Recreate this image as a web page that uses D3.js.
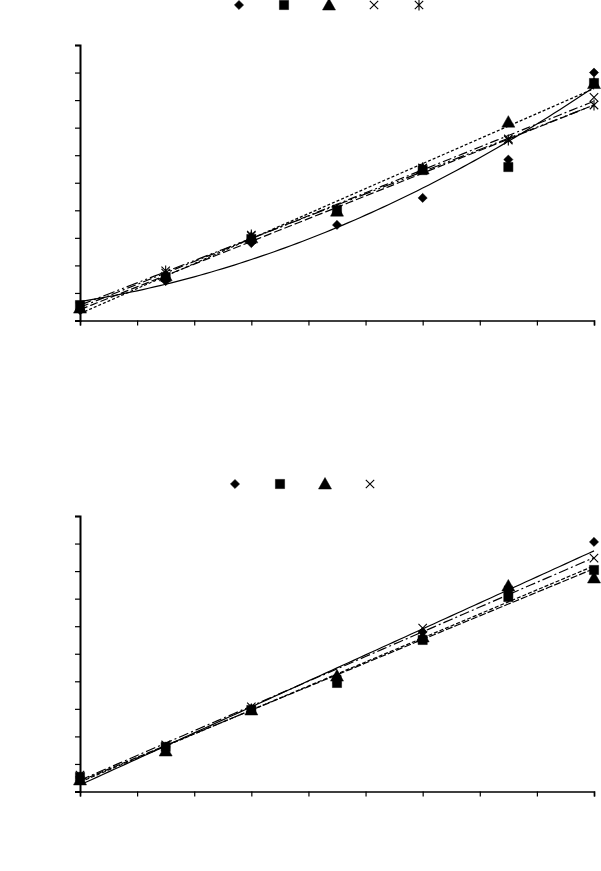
<!DOCTYPE html>
<html>
<head>
<meta charset="utf-8">
<script src="https://cdn.jsdelivr.net/npm/d3@7"></script>
<style>
  body { margin: 0; background: #fff; }
  svg { display: block; }
</style>
</head>
<body>
<div id="app"></div>
<script>
// x positions of the measurements (same for both panels)
const xValues = [0, 1.5, 3, 4.5, 6, 7.5, 9];

// top panel
const topDiamond  = [0.38, 1.43, 2.81, 3.47, 4.45, 5.84, 9.00];
const topSquare   = [0.56, 1.58, 2.96, 4.01, 5.46, 5.57, 8.62];
const topTriangle = [0.45, 1.62, 3.00, 3.97, 5.50, 7.20, 8.60];
const topCross    = [0.53, 1.72, 3.07, 4.00, 5.53, 6.59, 8.10];
const topStar     = [0.50, 1.80, 3.10, 4.04, 5.53, 6.55, 7.82];

// bottom panel
const botDiamond  = [0.53, 1.62, 3.00, 4.16, 5.79, 7.25, 9.06];
const botSquare   = [0.53, 1.62, 2.96, 3.94, 5.50, 7.06, 8.04];
const botTriangle = [0.42, 1.47, 2.96, 4.19, 5.61, 7.46, 7.75];
const botCross    = [0.60, 1.69, 3.07, 4.08, 5.93, 7.31, 8.47];

const xTicks = d3.range(0, 10);
const yTicks = d3.range(0, 11);

const width = 601, height = 871;

const svg = d3.select("#app").append("svg")
    .attr("width", width)
    .attr("height", height);

// marker shapes
const shapes = {
  diamond: { draw(c) { const r = 4.6; c.moveTo(0, -r); c.lineTo(r, 0); c.lineTo(0, r); c.lineTo(-r, 0); c.closePath(); } },
  square:  { draw(c) { const r = 4.6; c.rect(-r, -r, 2 * r, 2 * r); } },
  triangle:{ draw(c) { c.moveTo(0, -6.5); c.lineTo(6.5, 5); c.lineTo(-6.5, 5); c.closePath(); } },
  cross:   { draw(c) { const r = 4.2; c.moveTo(-r, -r); c.lineTo(r, r); c.moveTo(r, -r); c.lineTo(-r, r); } },
  star:    { draw(c) { const r = 4.2; c.moveTo(-r, -r); c.lineTo(r, r); c.moveTo(r, -r); c.lineTo(-r, r); c.moveTo(0, -5.5); c.lineTo(0, 5.5); } }
};
const filled = { diamond: true, square: true, triangle: true, cross: false, star: false };

// least squares fits
function linFit(xs, ys) {
  const mx = d3.mean(xs), my = d3.mean(ys);
  const b = d3.sum(xs, (x, i) => (x - mx) * (ys[i] - my)) / d3.sum(xs, x => (x - mx) ** 2);
  return x => my + b * (x - mx);
}
function polyFit(xs, ys) {
  // quadratic via normal equations
  const n = xs.length;
  const s = k => d3.sum(xs, x => x ** k);
  const t = k => d3.sum(xs, (x, i) => x ** k * ys[i]);
  const A = [[n, s(1), s(2)], [s(1), s(2), s(3)], [s(2), s(3), s(4)]];
  const B = [t(0), t(1), t(2)];
  for (let i = 0; i < 3; i++) {
    for (let j = i + 1; j < 3; j++) {
      const f = A[j][i] / A[i][i];
      for (let k = i; k < 3; k++) A[j][k] -= f * A[i][k];
      B[j] -= f * B[i];
    }
  }
  const c = [0, 0, 0];
  for (let i = 2; i >= 0; i--) {
    let v = B[i];
    for (let k = i + 1; k < 3; k++) v -= A[i][k] * c[k];
    c[i] = v / A[i][i];
  }
  return x => c[0] + c[1] * x + c[2] * x * x;
}

function panel(top, bottom, series, legendY, legendX) {
  const x = d3.scaleLinear().domain([0, 9]).range([80, 594]);
  const y = d3.scaleLinear().domain([0, 10]).range([bottom, top]);
  const g = svg.append("g");

  // trend lines
  const line = d3.line().x(d => x(d[0])).y(d => y(d[1]));
  series.forEach(s => {
    const f = s.fit === "poly" ? polyFit(xValues, s.values) : linFit(xValues, s.values);
    const pts = d3.range(0, 9.001, 0.1).map(v => [v, f(v)]);
    g.append("path")
        .attr("d", line(pts))
        .attr("fill", "none")
        .attr("stroke", "#000")
        .attr("stroke-width", 1.2)
        .attr("stroke-dasharray", s.dash);
  });

  // axes
  g.append("g")
      .attr("transform", `translate(0,${bottom})`)
      .call(d3.axisBottom(x).tickValues(xTicks).tickSize(5).tickFormat(""))
      .call(a => a.select(".domain").attr("stroke-width", 1.6))
      .call(a => a.selectAll(".tick line").attr("stroke-width", 1.2));
  g.append("g")
      .attr("transform", "translate(80,0)")
      .call(d3.axisLeft(y).tickValues(yTicks).tickSize(5).tickFormat(""))
      .call(a => a.select(".domain").attr("stroke-width", 2))
      .call(a => a.selectAll(".tick line").attr("stroke-width", 1.2));

  // markers
  series.forEach(s => {
    g.append("g").selectAll("path")
        .data(s.values)
      .enter().append("path")
        .attr("transform", (d, i) => `translate(${x(xValues[i])},${y(d)})`)
        .attr("d", d3.symbol(shapes[s.shape]))
        .attr("fill", filled[s.shape] ? "#000" : "none")
        .attr("stroke", "#000")
        .attr("stroke-width", filled[s.shape] ? 0.5 : 1.1);
  });

  // legend (markers only, no labels)
  series.forEach((s, i) => {
    g.append("path")
        .attr("transform", `translate(${legendX + i * 45},${legendY})`)
        .attr("d", d3.symbol(shapes[s.shape]))
        .attr("fill", filled[s.shape] ? "#000" : "none")
        .attr("stroke", "#000")
        .attr("stroke-width", filled[s.shape] ? 0.5 : 1.1);
  });
}

panel(45, 320.5, [
  { values: topDiamond,  shape: "diamond",  fit: "poly", dash: null },
  { values: topSquare,   shape: "square",   fit: "lin",  dash: "8,3" },
  { values: topTriangle, shape: "triangle", fit: "lin",  dash: "3,2" },
  { values: topCross,    shape: "cross",    fit: "lin",  dash: "9,3,2,3" },
  { values: topStar,     shape: "star",     fit: "lin",  dash: "12,3,2,3,2,3" }
], 5, 239);

panel(516, 791.5, [
  { values: botDiamond,  shape: "diamond",  fit: "lin", dash: null },
  { values: botSquare,   shape: "square",   fit: "lin", dash: "7,2" },
  { values: botTriangle, shape: "triangle", fit: "lin", dash: "4,2" },
  { values: botCross,    shape: "cross",    fit: "lin", dash: "10,3,2,3" }
], 484, 235);
</script>
</body>
</html>
